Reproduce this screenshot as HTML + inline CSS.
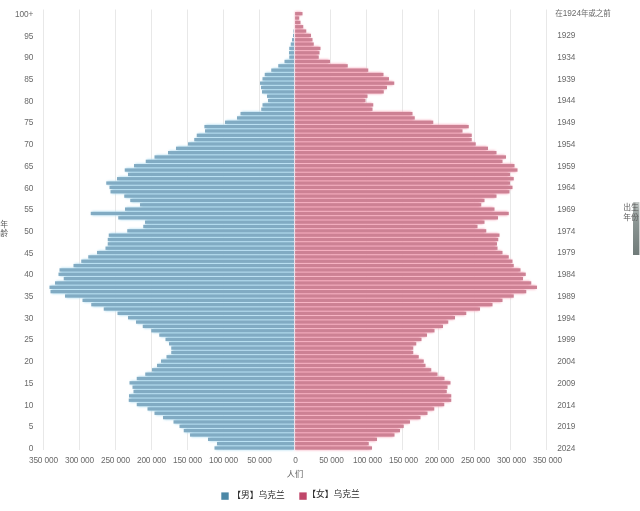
<!DOCTYPE html>
<html lang="zh"><head><meta charset="utf-8"><title>乌克兰人口金字塔</title>
<style>
html,body{margin:0;padding:0;background:#fff;}
body{width:640px;height:511px;overflow:hidden;position:relative;font-family:"Liberation Sans","Noto Sans CJK SC",sans-serif;}
svg{position:absolute;left:0;top:0;display:block}
svg text{font-family:"Liberation Sans","Noto Sans CJK SC",sans-serif;}
.t{font-size:8.3px;fill:#6a6a6a;letter-spacing:-0.15px}
.c{font-size:8.2px;fill:#5a5a5a}
.lg{font-size:8.75px;fill:#2a2a2a}
</style></head><body>
<svg width="640" height="511" viewBox="0 0 640 511">
<rect width="640" height="511" fill="#fff"/>

<g stroke="#e8e8e8" stroke-width="1">
<line x1="43.5" y1="9.5" x2="43.5" y2="450"/>
<line x1="79.5" y1="9.5" x2="79.5" y2="450"/>
<line x1="115.5" y1="9.5" x2="115.5" y2="450"/>
<line x1="151.5" y1="9.5" x2="151.5" y2="450"/>
<line x1="187.5" y1="9.5" x2="187.5" y2="450"/>
<line x1="223.5" y1="9.5" x2="223.5" y2="450"/>
<line x1="259.5" y1="9.5" x2="259.5" y2="450"/>
<line x1="330.5" y1="9.5" x2="330.5" y2="450"/>
<line x1="366.5" y1="9.5" x2="366.5" y2="450"/>
<line x1="402.5" y1="9.5" x2="402.5" y2="450"/>
<line x1="438.5" y1="9.5" x2="438.5" y2="450"/>
<line x1="474.5" y1="9.5" x2="474.5" y2="450"/>
<line x1="510.5" y1="9.5" x2="510.5" y2="450"/>
<line x1="546.5" y1="9.5" x2="546.5" y2="450"/>
</g>
<defs><filter id="bl" x="-5%" y="-5%" width="110%" height="110%"><feGaussianBlur stdDeviation="1.1"/></filter></defs>
<g fill="#b6e0f3" filter="url(#bl)">
<rect x="295.20" y="24.56" width="0.00" height="4.343"/>
<rect x="294.70" y="28.90" width="0.00" height="4.343"/>
<rect x="294.20" y="33.24" width="0.00" height="4.343"/>
<rect x="293.20" y="37.59" width="0.80" height="4.343"/>
<rect x="291.95" y="41.93" width="2.05" height="4.343"/>
<rect x="290.45" y="46.27" width="3.55" height="4.343"/>
<rect x="290.20" y="50.62" width="3.80" height="4.343"/>
<rect x="290.45" y="54.96" width="3.55" height="4.343"/>
<rect x="285.70" y="59.30" width="8.30" height="4.343"/>
<rect x="279.45" y="63.64" width="14.55" height="4.343"/>
<rect x="272.45" y="67.99" width="21.55" height="4.343"/>
<rect x="265.95" y="72.33" width="28.05" height="4.343"/>
<rect x="263.70" y="76.67" width="30.30" height="4.343"/>
<rect x="261.20" y="81.02" width="32.80" height="4.343"/>
<rect x="262.20" y="85.36" width="31.80" height="4.343"/>
<rect x="263.20" y="89.70" width="30.80" height="4.343"/>
<rect x="268.20" y="94.05" width="25.80" height="4.343"/>
<rect x="269.20" y="98.39" width="24.80" height="4.343"/>
<rect x="263.70" y="102.73" width="30.30" height="4.343"/>
<rect x="262.45" y="107.07" width="31.55" height="4.343"/>
<rect x="241.70" y="111.42" width="52.30" height="4.343"/>
<rect x="238.20" y="115.76" width="55.80" height="4.343"/>
<rect x="226.20" y="120.10" width="67.80" height="4.343"/>
<rect x="205.60" y="124.45" width="88.40" height="4.343"/>
<rect x="206.20" y="128.79" width="87.80" height="4.343"/>
<rect x="197.95" y="133.13" width="96.05" height="4.343"/>
<rect x="195.45" y="137.48" width="98.55" height="4.343"/>
<rect x="189.20" y="141.82" width="104.80" height="4.343"/>
<rect x="177.20" y="146.16" width="116.80" height="4.343"/>
<rect x="169.20" y="150.50" width="124.80" height="4.343"/>
<rect x="155.70" y="154.85" width="138.30" height="4.343"/>
<rect x="146.95" y="159.19" width="147.05" height="4.343"/>
<rect x="135.20" y="163.53" width="158.80" height="4.343"/>
<rect x="125.95" y="167.88" width="168.05" height="4.343"/>
<rect x="129.20" y="172.22" width="164.80" height="4.343"/>
<rect x="118.20" y="176.56" width="175.80" height="4.343"/>
<rect x="107.45" y="180.91" width="186.55" height="4.343"/>
<rect x="110.70" y="185.25" width="183.30" height="4.343"/>
<rect x="111.70" y="189.59" width="182.30" height="4.343"/>
<rect x="125.45" y="193.93" width="168.55" height="4.343"/>
<rect x="131.45" y="198.28" width="162.55" height="4.343"/>
<rect x="141.20" y="202.62" width="152.80" height="4.343"/>
<rect x="126.20" y="206.96" width="167.80" height="4.343"/>
<rect x="91.95" y="211.31" width="202.05" height="4.343"/>
<rect x="119.45" y="215.65" width="174.55" height="4.343"/>
<rect x="146.20" y="219.99" width="147.80" height="4.343"/>
<rect x="144.45" y="224.34" width="149.55" height="4.343"/>
<rect x="128.45" y="228.68" width="165.55" height="4.343"/>
<rect x="109.95" y="233.02" width="184.05" height="4.343"/>
<rect x="108.95" y="237.36" width="185.05" height="4.343"/>
<rect x="108.95" y="241.71" width="185.05" height="4.343"/>
<rect x="106.70" y="246.05" width="187.30" height="4.343"/>
<rect x="98.20" y="250.39" width="195.80" height="4.343"/>
<rect x="89.45" y="254.74" width="204.55" height="4.343"/>
<rect x="82.45" y="259.08" width="211.55" height="4.343"/>
<rect x="74.70" y="263.42" width="219.30" height="4.343"/>
<rect x="60.70" y="267.77" width="233.30" height="4.343"/>
<rect x="59.70" y="272.11" width="234.30" height="4.343"/>
<rect x="64.95" y="276.45" width="229.05" height="4.343"/>
<rect x="56.20" y="280.79" width="237.80" height="4.343"/>
<rect x="50.70" y="285.14" width="243.30" height="4.343"/>
<rect x="51.70" y="289.48" width="242.30" height="4.343"/>
<rect x="66.20" y="293.82" width="227.80" height="4.343"/>
<rect x="83.70" y="298.17" width="210.30" height="4.343"/>
<rect x="92.45" y="302.51" width="201.55" height="4.343"/>
<rect x="104.95" y="306.85" width="189.05" height="4.343"/>
<rect x="118.70" y="311.20" width="175.30" height="4.343"/>
<rect x="129.20" y="315.54" width="164.80" height="4.343"/>
<rect x="137.20" y="319.88" width="156.80" height="4.343"/>
<rect x="143.95" y="324.22" width="150.05" height="4.343"/>
<rect x="152.45" y="328.57" width="141.55" height="4.343"/>
<rect x="160.45" y="332.91" width="133.55" height="4.343"/>
<rect x="166.70" y="337.25" width="127.30" height="4.343"/>
<rect x="170.20" y="341.60" width="123.80" height="4.343"/>
<rect x="172.45" y="345.94" width="121.55" height="4.343"/>
<rect x="172.45" y="350.28" width="121.55" height="4.343"/>
<rect x="167.70" y="354.63" width="126.30" height="4.343"/>
<rect x="162.20" y="358.97" width="131.80" height="4.343"/>
<rect x="158.20" y="363.31" width="135.80" height="4.343"/>
<rect x="153.20" y="367.65" width="140.80" height="4.343"/>
<rect x="146.45" y="372.00" width="147.55" height="4.343"/>
<rect x="137.95" y="376.34" width="156.05" height="4.343"/>
<rect x="130.70" y="380.68" width="163.30" height="4.343"/>
<rect x="133.70" y="385.03" width="160.30" height="4.343"/>
<rect x="134.70" y="389.37" width="159.30" height="4.343"/>
<rect x="130.20" y="393.71" width="163.80" height="4.343"/>
<rect x="129.95" y="398.06" width="164.05" height="4.343"/>
<rect x="137.95" y="402.40" width="156.05" height="4.343"/>
<rect x="148.70" y="406.74" width="145.30" height="4.343"/>
<rect x="155.70" y="411.08" width="138.30" height="4.343"/>
<rect x="164.20" y="415.43" width="129.80" height="4.343"/>
<rect x="174.70" y="419.77" width="119.30" height="4.343"/>
<rect x="180.70" y="424.11" width="113.30" height="4.343"/>
<rect x="184.95" y="428.46" width="109.05" height="4.343"/>
<rect x="191.20" y="432.80" width="102.80" height="4.343"/>
<rect x="209.20" y="437.14" width="84.80" height="4.343"/>
<rect x="218.20" y="441.49" width="75.80" height="4.343"/>
<rect x="215.70" y="445.83" width="78.30" height="4.343"/>
</g>
<g fill="#f8aec0" filter="url(#bl)">
<rect x="295.1" y="11.53" width="6.20" height="4.343"/>
<rect x="295.1" y="15.87" width="2.95" height="4.343"/>
<rect x="295.1" y="20.21" width="4.20" height="4.343"/>
<rect x="295.1" y="24.56" width="6.95" height="4.343"/>
<rect x="295.1" y="28.90" width="9.95" height="4.343"/>
<rect x="295.1" y="33.24" width="14.70" height="4.343"/>
<rect x="295.1" y="37.59" width="16.20" height="4.343"/>
<rect x="295.1" y="41.93" width="17.45" height="4.343"/>
<rect x="295.1" y="46.27" width="24.20" height="4.343"/>
<rect x="295.1" y="50.62" width="23.20" height="4.343"/>
<rect x="295.1" y="54.96" width="22.45" height="4.343"/>
<rect x="295.1" y="59.30" width="33.70" height="4.343"/>
<rect x="295.1" y="63.64" width="51.45" height="4.343"/>
<rect x="295.1" y="67.99" width="71.95" height="4.343"/>
<rect x="295.1" y="72.33" width="87.20" height="4.343"/>
<rect x="295.1" y="76.67" width="92.70" height="4.343"/>
<rect x="295.1" y="81.02" width="97.95" height="4.343"/>
<rect x="295.1" y="85.36" width="90.70" height="4.343"/>
<rect x="295.1" y="89.70" width="87.45" height="4.343"/>
<rect x="295.1" y="94.05" width="71.20" height="4.343"/>
<rect x="295.1" y="98.39" width="69.20" height="4.343"/>
<rect x="295.1" y="102.73" width="76.95" height="4.343"/>
<rect x="295.1" y="107.07" width="76.20" height="4.343"/>
<rect x="295.1" y="111.42" width="116.20" height="4.343"/>
<rect x="295.1" y="115.76" width="118.45" height="4.343"/>
<rect x="295.1" y="120.10" width="136.95" height="4.343"/>
<rect x="295.1" y="124.45" width="172.45" height="4.343"/>
<rect x="295.1" y="128.79" width="166.20" height="4.343"/>
<rect x="295.1" y="133.13" width="175.45" height="4.343"/>
<rect x="295.1" y="137.48" width="175.45" height="4.343"/>
<rect x="295.1" y="141.82" width="179.45" height="4.343"/>
<rect x="295.1" y="146.16" width="191.70" height="4.343"/>
<rect x="295.1" y="150.50" width="200.20" height="4.343"/>
<rect x="295.1" y="154.85" width="209.70" height="4.343"/>
<rect x="295.1" y="159.19" width="206.20" height="4.343"/>
<rect x="295.1" y="163.53" width="218.20" height="4.343"/>
<rect x="295.1" y="167.88" width="221.20" height="4.343"/>
<rect x="295.1" y="172.22" width="213.70" height="4.343"/>
<rect x="295.1" y="176.56" width="217.45" height="4.343"/>
<rect x="295.1" y="180.91" width="213.70" height="4.343"/>
<rect x="295.1" y="185.25" width="216.20" height="4.343"/>
<rect x="295.1" y="189.59" width="213.20" height="4.343"/>
<rect x="295.1" y="193.93" width="200.20" height="4.343"/>
<rect x="295.1" y="198.28" width="188.20" height="4.343"/>
<rect x="295.1" y="202.62" width="184.95" height="4.343"/>
<rect x="295.1" y="206.96" width="198.20" height="4.343"/>
<rect x="295.1" y="211.31" width="212.45" height="4.343"/>
<rect x="295.1" y="215.65" width="201.70" height="4.343"/>
<rect x="295.1" y="219.99" width="188.20" height="4.343"/>
<rect x="295.1" y="224.34" width="181.20" height="4.343"/>
<rect x="295.1" y="228.68" width="189.95" height="4.343"/>
<rect x="295.1" y="233.02" width="203.20" height="4.343"/>
<rect x="295.1" y="237.36" width="201.95" height="4.343"/>
<rect x="295.1" y="241.71" width="200.70" height="4.343"/>
<rect x="295.1" y="246.05" width="201.20" height="4.343"/>
<rect x="295.1" y="250.39" width="206.20" height="4.343"/>
<rect x="295.1" y="254.74" width="212.45" height="4.343"/>
<rect x="295.1" y="259.08" width="216.20" height="4.343"/>
<rect x="295.1" y="263.42" width="217.45" height="4.343"/>
<rect x="295.1" y="267.77" width="224.20" height="4.343"/>
<rect x="295.1" y="272.11" width="229.45" height="4.343"/>
<rect x="295.1" y="276.45" width="226.70" height="4.343"/>
<rect x="295.1" y="280.79" width="234.95" height="4.343"/>
<rect x="295.1" y="285.14" width="240.70" height="4.343"/>
<rect x="295.1" y="289.48" width="229.95" height="4.343"/>
<rect x="295.1" y="293.82" width="217.45" height="4.343"/>
<rect x="295.1" y="298.17" width="206.20" height="4.343"/>
<rect x="295.1" y="302.51" width="196.20" height="4.343"/>
<rect x="295.1" y="306.85" width="183.70" height="4.343"/>
<rect x="295.1" y="311.20" width="169.95" height="4.343"/>
<rect x="295.1" y="315.54" width="158.70" height="4.343"/>
<rect x="295.1" y="319.88" width="151.95" height="4.343"/>
<rect x="295.1" y="324.22" width="146.70" height="4.343"/>
<rect x="295.1" y="328.57" width="138.20" height="4.343"/>
<rect x="295.1" y="332.91" width="130.70" height="4.343"/>
<rect x="295.1" y="337.25" width="125.20" height="4.343"/>
<rect x="295.1" y="341.60" width="119.95" height="4.343"/>
<rect x="295.1" y="345.94" width="116.95" height="4.343"/>
<rect x="295.1" y="350.28" width="116.95" height="4.343"/>
<rect x="295.1" y="354.63" width="122.45" height="4.343"/>
<rect x="295.1" y="358.97" width="127.45" height="4.343"/>
<rect x="295.1" y="363.31" width="129.20" height="4.343"/>
<rect x="295.1" y="367.65" width="134.95" height="4.343"/>
<rect x="295.1" y="372.00" width="141.20" height="4.343"/>
<rect x="295.1" y="376.34" width="148.20" height="4.343"/>
<rect x="295.1" y="380.68" width="154.20" height="4.343"/>
<rect x="295.1" y="385.03" width="151.20" height="4.343"/>
<rect x="295.1" y="389.37" width="150.45" height="4.343"/>
<rect x="295.1" y="393.71" width="154.95" height="4.343"/>
<rect x="295.1" y="398.06" width="154.95" height="4.343"/>
<rect x="295.1" y="402.40" width="147.95" height="4.343"/>
<rect x="295.1" y="406.74" width="137.95" height="4.343"/>
<rect x="295.1" y="411.08" width="131.20" height="4.343"/>
<rect x="295.1" y="415.43" width="124.20" height="4.343"/>
<rect x="295.1" y="419.77" width="113.70" height="4.343"/>
<rect x="295.1" y="424.11" width="107.45" height="4.343"/>
<rect x="295.1" y="428.46" width="103.70" height="4.343"/>
<rect x="295.1" y="432.80" width="98.20" height="4.343"/>
<rect x="295.1" y="437.14" width="80.70" height="4.343"/>
<rect x="295.1" y="441.49" width="72.45" height="4.343"/>
<rect x="295.1" y="445.83" width="75.70" height="4.343"/>
</g>
<g fill="#81abc3">
<rect x="294.00" y="25.08" width="0.00" height="3.3"/>
<rect x="293.50" y="29.42" width="0.50" height="3.3"/>
<rect x="293.00" y="33.77" width="1.00" height="3.3"/>
<rect x="292.00" y="38.11" width="2.00" height="3.3"/>
<rect x="290.75" y="42.45" width="3.25" height="3.3"/>
<rect x="289.25" y="46.79" width="4.75" height="3.3"/>
<rect x="289.00" y="51.14" width="5.00" height="3.3"/>
<rect x="289.25" y="55.48" width="4.75" height="3.3"/>
<rect x="284.50" y="59.82" width="9.50" height="3.3"/>
<rect x="278.25" y="64.17" width="15.75" height="3.3"/>
<rect x="271.25" y="68.51" width="22.75" height="3.3"/>
<rect x="264.75" y="72.85" width="29.25" height="3.3"/>
<rect x="262.50" y="77.19" width="31.50" height="3.3"/>
<rect x="260.00" y="81.54" width="34.00" height="3.3"/>
<rect x="261.00" y="85.88" width="33.00" height="3.3"/>
<rect x="262.00" y="90.22" width="32.00" height="3.3"/>
<rect x="267.00" y="94.57" width="27.00" height="3.3"/>
<rect x="268.00" y="98.91" width="26.00" height="3.3"/>
<rect x="262.50" y="103.25" width="31.50" height="3.3"/>
<rect x="261.25" y="107.60" width="32.75" height="3.3"/>
<rect x="240.50" y="111.94" width="53.50" height="3.3"/>
<rect x="237.00" y="116.28" width="57.00" height="3.3"/>
<rect x="225.00" y="120.62" width="69.00" height="3.3"/>
<rect x="204.40" y="124.97" width="89.60" height="3.3"/>
<rect x="205.00" y="129.31" width="89.00" height="3.3"/>
<rect x="196.75" y="133.65" width="97.25" height="3.3"/>
<rect x="194.25" y="138.00" width="99.75" height="3.3"/>
<rect x="188.00" y="142.34" width="106.00" height="3.3"/>
<rect x="176.00" y="146.68" width="118.00" height="3.3"/>
<rect x="168.00" y="151.03" width="126.00" height="3.3"/>
<rect x="154.50" y="155.37" width="139.50" height="3.3"/>
<rect x="145.75" y="159.71" width="148.25" height="3.3"/>
<rect x="134.00" y="164.05" width="160.00" height="3.3"/>
<rect x="124.75" y="168.40" width="169.25" height="3.3"/>
<rect x="128.00" y="172.74" width="166.00" height="3.3"/>
<rect x="117.00" y="177.08" width="177.00" height="3.3"/>
<rect x="106.25" y="181.43" width="187.75" height="3.3"/>
<rect x="109.50" y="185.77" width="184.50" height="3.3"/>
<rect x="110.50" y="190.11" width="183.50" height="3.3"/>
<rect x="124.25" y="194.46" width="169.75" height="3.3"/>
<rect x="130.25" y="198.80" width="163.75" height="3.3"/>
<rect x="140.00" y="203.14" width="154.00" height="3.3"/>
<rect x="125.00" y="207.48" width="169.00" height="3.3"/>
<rect x="90.75" y="211.83" width="203.25" height="3.3"/>
<rect x="118.25" y="216.17" width="175.75" height="3.3"/>
<rect x="145.00" y="220.51" width="149.00" height="3.3"/>
<rect x="143.25" y="224.86" width="150.75" height="3.3"/>
<rect x="127.25" y="229.20" width="166.75" height="3.3"/>
<rect x="108.75" y="233.54" width="185.25" height="3.3"/>
<rect x="107.75" y="237.89" width="186.25" height="3.3"/>
<rect x="107.75" y="242.23" width="186.25" height="3.3"/>
<rect x="105.50" y="246.57" width="188.50" height="3.3"/>
<rect x="97.00" y="250.91" width="197.00" height="3.3"/>
<rect x="88.25" y="255.26" width="205.75" height="3.3"/>
<rect x="81.25" y="259.60" width="212.75" height="3.3"/>
<rect x="73.50" y="263.94" width="220.50" height="3.3"/>
<rect x="59.50" y="268.29" width="234.50" height="3.3"/>
<rect x="58.50" y="272.63" width="235.50" height="3.3"/>
<rect x="63.75" y="276.97" width="230.25" height="3.3"/>
<rect x="55.00" y="281.32" width="239.00" height="3.3"/>
<rect x="49.50" y="285.66" width="244.50" height="3.3"/>
<rect x="50.50" y="290.00" width="243.50" height="3.3"/>
<rect x="65.00" y="294.35" width="229.00" height="3.3"/>
<rect x="82.50" y="298.69" width="211.50" height="3.3"/>
<rect x="91.25" y="303.03" width="202.75" height="3.3"/>
<rect x="103.75" y="307.37" width="190.25" height="3.3"/>
<rect x="117.50" y="311.72" width="176.50" height="3.3"/>
<rect x="128.00" y="316.06" width="166.00" height="3.3"/>
<rect x="136.00" y="320.40" width="158.00" height="3.3"/>
<rect x="142.75" y="324.75" width="151.25" height="3.3"/>
<rect x="151.25" y="329.09" width="142.75" height="3.3"/>
<rect x="159.25" y="333.43" width="134.75" height="3.3"/>
<rect x="165.50" y="337.78" width="128.50" height="3.3"/>
<rect x="169.00" y="342.12" width="125.00" height="3.3"/>
<rect x="171.25" y="346.46" width="122.75" height="3.3"/>
<rect x="171.25" y="350.80" width="122.75" height="3.3"/>
<rect x="166.50" y="355.15" width="127.50" height="3.3"/>
<rect x="161.00" y="359.49" width="133.00" height="3.3"/>
<rect x="157.00" y="363.83" width="137.00" height="3.3"/>
<rect x="152.00" y="368.18" width="142.00" height="3.3"/>
<rect x="145.25" y="372.52" width="148.75" height="3.3"/>
<rect x="136.75" y="376.86" width="157.25" height="3.3"/>
<rect x="129.50" y="381.20" width="164.50" height="3.3"/>
<rect x="132.50" y="385.55" width="161.50" height="3.3"/>
<rect x="133.50" y="389.89" width="160.50" height="3.3"/>
<rect x="129.00" y="394.23" width="165.00" height="3.3"/>
<rect x="128.75" y="398.58" width="165.25" height="3.3"/>
<rect x="136.75" y="402.92" width="157.25" height="3.3"/>
<rect x="147.50" y="407.26" width="146.50" height="3.3"/>
<rect x="154.50" y="411.61" width="139.50" height="3.3"/>
<rect x="163.00" y="415.95" width="131.00" height="3.3"/>
<rect x="173.50" y="420.29" width="120.50" height="3.3"/>
<rect x="179.50" y="424.63" width="114.50" height="3.3"/>
<rect x="183.75" y="428.98" width="110.25" height="3.3"/>
<rect x="190.00" y="433.32" width="104.00" height="3.3"/>
<rect x="208.00" y="437.66" width="86.00" height="3.3"/>
<rect x="217.00" y="442.01" width="77.00" height="3.3"/>
<rect x="214.50" y="446.35" width="79.50" height="3.3"/>
</g>
<g fill="#cd8194">
<rect x="295.1" y="12.05" width="7.40" height="3.3"/>
<rect x="295.1" y="16.39" width="4.15" height="3.3"/>
<rect x="295.1" y="20.74" width="5.40" height="3.3"/>
<rect x="295.1" y="25.08" width="8.15" height="3.3"/>
<rect x="295.1" y="29.42" width="11.15" height="3.3"/>
<rect x="295.1" y="33.77" width="15.90" height="3.3"/>
<rect x="295.1" y="38.11" width="17.40" height="3.3"/>
<rect x="295.1" y="42.45" width="18.65" height="3.3"/>
<rect x="295.1" y="46.79" width="25.40" height="3.3"/>
<rect x="295.1" y="51.14" width="24.40" height="3.3"/>
<rect x="295.1" y="55.48" width="23.65" height="3.3"/>
<rect x="295.1" y="59.82" width="34.90" height="3.3"/>
<rect x="295.1" y="64.17" width="52.65" height="3.3"/>
<rect x="295.1" y="68.51" width="73.15" height="3.3"/>
<rect x="295.1" y="72.85" width="88.40" height="3.3"/>
<rect x="295.1" y="77.19" width="93.90" height="3.3"/>
<rect x="295.1" y="81.54" width="99.15" height="3.3"/>
<rect x="295.1" y="85.88" width="91.90" height="3.3"/>
<rect x="295.1" y="90.22" width="88.65" height="3.3"/>
<rect x="295.1" y="94.57" width="72.40" height="3.3"/>
<rect x="295.1" y="98.91" width="70.40" height="3.3"/>
<rect x="295.1" y="103.25" width="78.15" height="3.3"/>
<rect x="295.1" y="107.60" width="77.40" height="3.3"/>
<rect x="295.1" y="111.94" width="117.40" height="3.3"/>
<rect x="295.1" y="116.28" width="119.65" height="3.3"/>
<rect x="295.1" y="120.62" width="138.15" height="3.3"/>
<rect x="295.1" y="124.97" width="173.65" height="3.3"/>
<rect x="295.1" y="129.31" width="167.40" height="3.3"/>
<rect x="295.1" y="133.65" width="176.65" height="3.3"/>
<rect x="295.1" y="138.00" width="176.65" height="3.3"/>
<rect x="295.1" y="142.34" width="180.65" height="3.3"/>
<rect x="295.1" y="146.68" width="192.90" height="3.3"/>
<rect x="295.1" y="151.03" width="201.40" height="3.3"/>
<rect x="295.1" y="155.37" width="210.90" height="3.3"/>
<rect x="295.1" y="159.71" width="207.40" height="3.3"/>
<rect x="295.1" y="164.05" width="219.40" height="3.3"/>
<rect x="295.1" y="168.40" width="222.40" height="3.3"/>
<rect x="295.1" y="172.74" width="214.90" height="3.3"/>
<rect x="295.1" y="177.08" width="218.65" height="3.3"/>
<rect x="295.1" y="181.43" width="214.90" height="3.3"/>
<rect x="295.1" y="185.77" width="217.40" height="3.3"/>
<rect x="295.1" y="190.11" width="214.40" height="3.3"/>
<rect x="295.1" y="194.46" width="201.40" height="3.3"/>
<rect x="295.1" y="198.80" width="189.40" height="3.3"/>
<rect x="295.1" y="203.14" width="186.15" height="3.3"/>
<rect x="295.1" y="207.48" width="199.40" height="3.3"/>
<rect x="295.1" y="211.83" width="213.65" height="3.3"/>
<rect x="295.1" y="216.17" width="202.90" height="3.3"/>
<rect x="295.1" y="220.51" width="189.40" height="3.3"/>
<rect x="295.1" y="224.86" width="182.40" height="3.3"/>
<rect x="295.1" y="229.20" width="191.15" height="3.3"/>
<rect x="295.1" y="233.54" width="204.40" height="3.3"/>
<rect x="295.1" y="237.89" width="203.15" height="3.3"/>
<rect x="295.1" y="242.23" width="201.90" height="3.3"/>
<rect x="295.1" y="246.57" width="202.40" height="3.3"/>
<rect x="295.1" y="250.91" width="207.40" height="3.3"/>
<rect x="295.1" y="255.26" width="213.65" height="3.3"/>
<rect x="295.1" y="259.60" width="217.40" height="3.3"/>
<rect x="295.1" y="263.94" width="218.65" height="3.3"/>
<rect x="295.1" y="268.29" width="225.40" height="3.3"/>
<rect x="295.1" y="272.63" width="230.65" height="3.3"/>
<rect x="295.1" y="276.97" width="227.90" height="3.3"/>
<rect x="295.1" y="281.32" width="236.15" height="3.3"/>
<rect x="295.1" y="285.66" width="241.90" height="3.3"/>
<rect x="295.1" y="290.00" width="231.15" height="3.3"/>
<rect x="295.1" y="294.35" width="218.65" height="3.3"/>
<rect x="295.1" y="298.69" width="207.40" height="3.3"/>
<rect x="295.1" y="303.03" width="197.40" height="3.3"/>
<rect x="295.1" y="307.37" width="184.90" height="3.3"/>
<rect x="295.1" y="311.72" width="171.15" height="3.3"/>
<rect x="295.1" y="316.06" width="159.90" height="3.3"/>
<rect x="295.1" y="320.40" width="153.15" height="3.3"/>
<rect x="295.1" y="324.75" width="147.90" height="3.3"/>
<rect x="295.1" y="329.09" width="139.40" height="3.3"/>
<rect x="295.1" y="333.43" width="131.90" height="3.3"/>
<rect x="295.1" y="337.78" width="126.40" height="3.3"/>
<rect x="295.1" y="342.12" width="121.15" height="3.3"/>
<rect x="295.1" y="346.46" width="118.15" height="3.3"/>
<rect x="295.1" y="350.80" width="118.15" height="3.3"/>
<rect x="295.1" y="355.15" width="123.65" height="3.3"/>
<rect x="295.1" y="359.49" width="128.65" height="3.3"/>
<rect x="295.1" y="363.83" width="130.40" height="3.3"/>
<rect x="295.1" y="368.18" width="136.15" height="3.3"/>
<rect x="295.1" y="372.52" width="142.40" height="3.3"/>
<rect x="295.1" y="376.86" width="149.40" height="3.3"/>
<rect x="295.1" y="381.20" width="155.40" height="3.3"/>
<rect x="295.1" y="385.55" width="152.40" height="3.3"/>
<rect x="295.1" y="389.89" width="151.65" height="3.3"/>
<rect x="295.1" y="394.23" width="156.15" height="3.3"/>
<rect x="295.1" y="398.58" width="156.15" height="3.3"/>
<rect x="295.1" y="402.92" width="149.15" height="3.3"/>
<rect x="295.1" y="407.26" width="139.15" height="3.3"/>
<rect x="295.1" y="411.61" width="132.40" height="3.3"/>
<rect x="295.1" y="415.95" width="125.40" height="3.3"/>
<rect x="295.1" y="420.29" width="114.90" height="3.3"/>
<rect x="295.1" y="424.63" width="108.65" height="3.3"/>
<rect x="295.1" y="428.98" width="104.90" height="3.3"/>
<rect x="295.1" y="433.32" width="99.40" height="3.3"/>
<rect x="295.1" y="437.66" width="81.90" height="3.3"/>
<rect x="295.1" y="442.01" width="73.65" height="3.3"/>
<rect x="295.1" y="446.35" width="76.90" height="3.3"/>
</g>
<g class="t" text-anchor="end">
<text x="33.2" y="16.90">100+</text>
<text x="33.2" y="38.61">95</text>
<text x="33.2" y="60.31">90</text>
<text x="33.2" y="82.02">85</text>
<text x="33.2" y="103.72">80</text>
<text x="33.2" y="125.43">75</text>
<text x="33.2" y="147.13">70</text>
<text x="33.2" y="168.84">65</text>
<text x="33.2" y="190.54">60</text>
<text x="33.2" y="212.25">55</text>
<text x="33.2" y="233.95">50</text>
<text x="33.2" y="255.66">45</text>
<text x="33.2" y="277.36">40</text>
<text x="33.2" y="299.06">35</text>
<text x="33.2" y="320.77">30</text>
<text x="33.2" y="342.47">25</text>
<text x="33.2" y="364.18">20</text>
<text x="33.2" y="385.88">15</text>
<text x="33.2" y="407.59">10</text>
<text x="33.2" y="429.30">5</text>
<text x="33.2" y="451.00">0</text>
</g>
<g class="t">
<text x="557.3" y="38.22">1929</text>
<text x="557.3" y="59.95">1934</text>
<text x="557.3" y="81.67">1939</text>
<text x="557.3" y="103.40">1944</text>
<text x="557.3" y="125.12">1949</text>
<text x="557.3" y="146.85">1954</text>
<text x="557.3" y="168.57">1959</text>
<text x="557.3" y="190.30">1964</text>
<text x="557.3" y="212.02">1969</text>
<text x="557.3" y="233.75">1974</text>
<text x="557.3" y="255.47">1979</text>
<text x="557.3" y="277.20">1984</text>
<text x="557.3" y="298.93">1989</text>
<text x="557.3" y="320.65">1994</text>
<text x="557.3" y="342.38">1999</text>
<text x="557.3" y="364.10">2004</text>
<text x="557.3" y="385.82">2009</text>
<text x="557.3" y="407.55">2014</text>
<text x="557.3" y="429.27">2019</text>
<text x="557.3" y="451.00">2024</text>
</g>
<text class="t" x="555.3" y="15.9" style="font-size:7.55px;letter-spacing:-0.15px">在<tspan style="font-size:8.3px;letter-spacing:-0.05px">1924</tspan>年或之前</text>
<g class="t" text-anchor="middle">
<text x="43.4" y="463.4">350 000</text>
<text x="79.4" y="463.4">300 000</text>
<text x="115.4" y="463.4">250 000</text>
<text x="151.4" y="463.4">200 000</text>
<text x="187.4" y="463.4">150 000</text>
<text x="223.4" y="463.4">100 000</text>
<text x="259.4" y="463.4">50 000</text>
<text x="295.4" y="463.4">0</text>
<text x="331.4" y="463.4">50 000</text>
<text x="367.4" y="463.4">100 000</text>
<text x="403.4" y="463.4">150 000</text>
<text x="439.4" y="463.4">200 000</text>
<text x="475.4" y="463.4">250 000</text>
<text x="511.4" y="463.4">300 000</text>
<text x="547.4" y="463.4">350 000</text>
</g>
<text class="c" x="295" y="476.6" text-anchor="middle">人们</text>
<text class="c" x="0.3" y="226.8" style="font-size:7.8px">年</text>
<text class="c" x="0.3" y="236.2" style="font-size:7.8px">龄</text>
<defs><linearGradient id="sb" x1="0" y1="0" x2="0" y2="1"><stop offset="0" stop-color="#c6cbc9"/><stop offset="0.15" stop-color="#a5adab"/><stop offset="0.4" stop-color="#8a9492"/><stop offset="1" stop-color="#707b79"/></linearGradient></defs>
<rect x="633" y="202" width="6.4" height="53" fill="url(#sb)"/>
<text class="c" x="623.3" y="210.4" style="font-size:7.8px">出生</text>
<text class="c" x="623.3" y="220.2" style="font-size:7.8px">年份</text>
<rect x="221.3" y="492.4" width="7.4" height="7.4" fill="#4c88a6"/>
<text class="lg" x="232.2" y="498.2">【男】乌克兰</text>
<rect x="299.3" y="492.4" width="7.4" height="7.4" fill="#c0476a"/>
<text class="lg" x="307.2" y="496.8">【女】乌克兰</text>
</svg></body></html>
